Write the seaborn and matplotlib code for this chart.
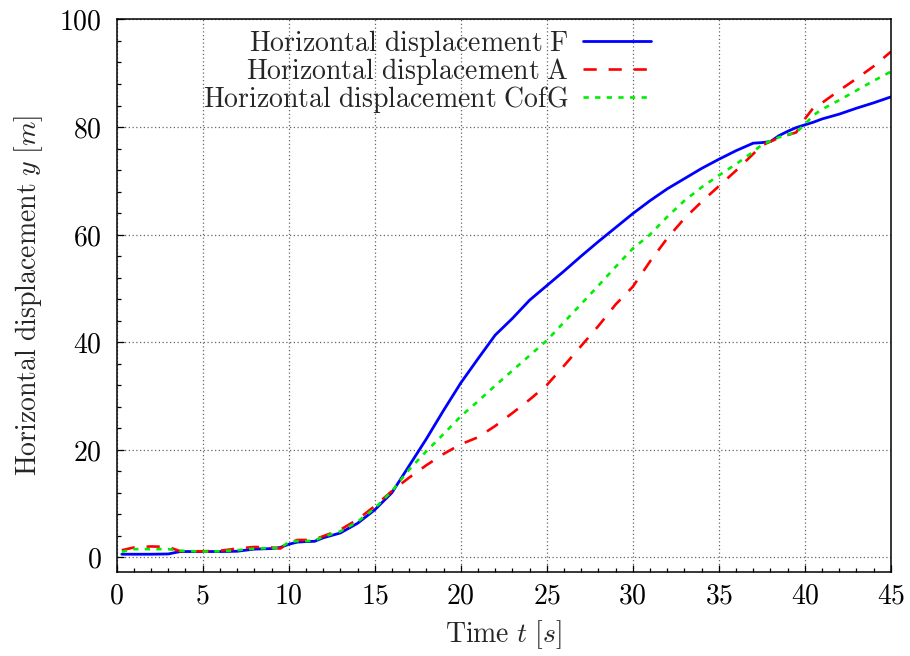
import numpy as np
import pandas as pd
import matplotlib
matplotlib.use("Agg")
import matplotlib.pyplot as plt
from matplotlib.ticker import MultipleLocator, FuncFormatter
import seaborn as sns

# Data
time = [0.3, 1, 2, 3, 3.7, 5, 6, 7, 8, 9, 9.5, 10, 10.5, 11, 11.5, 12, 13, 14,
        15, 16, 17, 18, 19, 20, 21, 22, 23, 24, 25, 26, 27, 28, 29, 30, 31, 32,
        33, 34, 35, 36, 37, 37.5, 38, 38.5, 39, 39.5, 40, 40.5, 41, 42, 43, 44, 45]

disp_f = [0.55, 0.55, 0.55, 0.6, 1.05, 1.05, 1.05, 1.1, 1.5, 1.6, 1.8, 2.4, 2.8,
          2.9, 2.95, 3.6, 4.5, 6.3, 8.8, 12.0, 17.0, 22.0, 27.3, 32.4, 36.9, 41.3,
          44.4, 47.8, 50.5, 53.2, 56.0, 58.7, 61.3, 63.9, 66.3, 68.5, 70.4, 72.3,
          74.0, 75.6, 77.0, 77.1, 77.3, 78.4, 79.2, 79.9, 80.4, 80.9, 81.5, 82.4,
          83.5, 84.5, 85.6]

disp_a = [1.3, 1.8, 2.0, 1.9, 1.1, 1.1, 1.2, 1.6, 1.9, 1.8, 1.6, 2.6, 3.2, 3.2,
          3.3, 3.9, 5.1, 7.0, 9.5, 12.3, 14.8, 17.1, 19.2, 21.0, 22.3, 24.4, 26.8,
          29.3, 32.0, 35.6, 39.3, 43.0, 47.0, 50.3, 55.0, 59.3, 63.0, 66.1, 69.0,
          71.9, 75.0, 76.6, 77.3, 78.0, 78.5, 79.0, 81.5, 83.6, 84.5, 86.8, 89.0,
          91.3, 94.0]

disp_cofg = [1.0, 1.5, 1.5, 1.5, 1.2, 1.05, 1.1, 1.3, 1.6, 1.7, 1.7, 2.8, 3.0,
             3.0, 3.1, 3.8, 4.8, 6.6, 9.1, 12.3, 16.3, 19.7, 22.9, 26.2, 29.0,
             31.9, 34.7, 37.5, 40.3, 43.7, 47.1, 50.5, 54.0, 57.4, 60.0, 63.3,
             66.3, 68.8, 71.0, 73.1, 75.4, 76.7, 77.4, 78.1, 78.6, 79.0, 80.5,
             82.2, 83.3, 85.0, 86.8, 88.6, 90.3]

df = pd.DataFrame({"t": time, "F": disp_f, "A": disp_a, "CofG": disp_cofg})

sns.set_style("ticks")
plt.rcParams["mathtext.fontset"] = "cm"
plt.rcParams["font.family"] = ["DejaVu Serif"]

fs = 20

fig = plt.figure(figsize=(9.1, 6.56), dpi=100)
ax = fig.add_axes([0.1282, 0.1285, 0.979 - 0.1282, 0.9703 - 0.1285])

sns.lineplot(data=df, x="t", y="F", ax=ax, color="#0000ff", lw=2.0,
             label=r"$\mathrm{Horizontal\ displacement\ F}$")
sns.lineplot(data=df, x="t", y="A", ax=ax, color="#ff0000", lw=1.9,
             linestyle=(0, (5, 4.5)),
             label=r"$\mathrm{Horizontal\ displacement\ A}$")
sns.lineplot(data=df, x="t", y="CofG", ax=ax, color="#00ee00", lw=1.9,
             linestyle=(0, (2.0, 2.4)),
             label=r"$\mathrm{Horizontal\ displacement\ CofG}$")

ax.set_xlim(0, 45)
ax.set_ylim(-2.7, 100)
ax.xaxis.set_major_locator(MultipleLocator(5))
ax.xaxis.set_minor_locator(MultipleLocator(1))
ax.yaxis.set_major_locator(MultipleLocator(20))
ax.yaxis.set_minor_locator(MultipleLocator(4))
fmt = FuncFormatter(lambda v, p: r"$%d$" % round(v))
ax.xaxis.set_major_formatter(fmt)
ax.yaxis.set_major_formatter(fmt)

ax.grid(True, which="major", color="#666666", linestyle=(0, (1, 2)), lw=0.9)
ax.tick_params(which="both", direction="in", top=False, right=False,
               labelsize=fs, colors="black")
ax.tick_params(which="major", length=5, width=0.9)
ax.tick_params(which="minor", length=3, width=0.9)
ax.tick_params(axis="x", pad=8)
ax.tick_params(axis="y", pad=11)
for s in ax.spines.values():
    s.set_linewidth(1.1)
    s.set_color("black")

ax.set_xlabel(r"$\mathrm{Time}\ t\ [s]$", fontsize=fs, labelpad=6)
ax.set_ylabel(r"$\mathrm{Horizontal\ displacement}\ y\ [m]$", fontsize=fs,
              labelpad=10)

ax.legend(loc="upper right", bbox_to_anchor=(0.690, 0.985), frameon=False,
          markerfirst=False, fontsize=fs, handlelength=2.45,
          handletextpad=0.5, labelspacing=-0.1, borderpad=0,
          borderaxespad=0)

fig.savefig("out.png", dpi=100)
